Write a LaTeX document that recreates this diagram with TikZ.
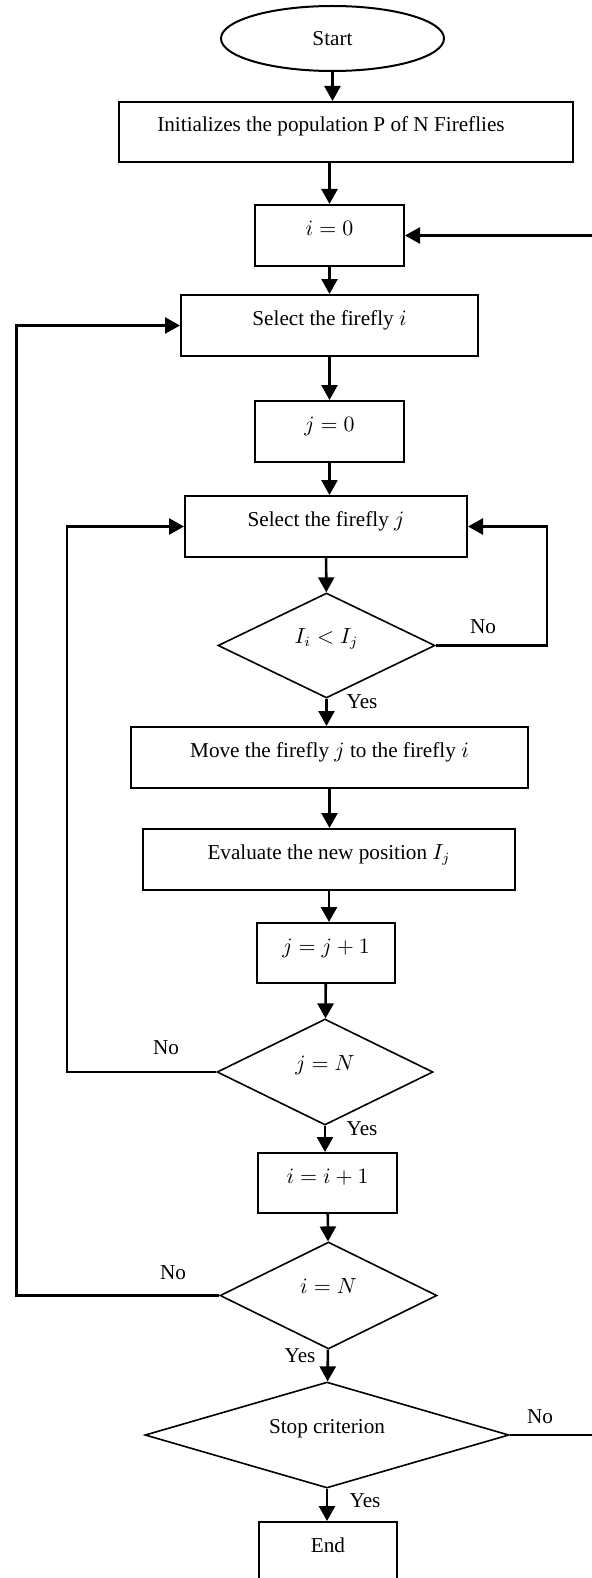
\documentclass[tikz,border=0pt]{standalone}
\usepackage{fontspec}
\setmainfont{Liberation Serif}
\usetikzlibrary{arrows.meta,shapes.geometric}
\tikzset{
  >={Triangle[length=7.5pt,width=8pt]},
  box/.style={draw, line width=1pt, minimum height=30.5pt, inner sep=2pt,
              text height=7pt, text depth=7pt, font=\fontsize{10.6}{12.7}\selectfont},
  term/.style={ellipse, draw, line width=1pt, minimum width=111.5pt, minimum height=32.5pt,
              inner sep=1pt, font=\fontsize{10.6}{12.7}\selectfont},
  test/.style={diamond, draw, line width=0.8pt, aspect=2, minimum height=53pt, inner sep=1pt,
              text height=6pt, text depth=8pt, font=\fontsize{10.6}{12.7}\selectfont},
  lbl/.style={inner sep=0pt, font=\fontsize{10.6}{12.7}\selectfont},
  flow/.style={->, line width=1.3pt},
  loop/.style={->, line width=1.3pt, rounded corners=0pt},
}

\begin{document}
\begin{tikzpicture}[x=0.5pt,y=-0.5pt]
    \useasboundingbox (0,0) rectangle (592,1578);
    \clip (0,0) rectangle (592,1578);
    \node[term] (start) at (332.5,38.5) {Start};
    \node[box,minimum width=227pt,minimum height=30pt] (init) at (346,132)
      {Initializes the population P of N Fireflies\hspace*{15pt}};
    \node[box,minimum width=74.5pt] (i0) at (329.5,235.5) {$i=0$};
    \node[box,minimum width=148.5pt] (seli) at (329.5,325.5) {Select the firefly $i$};
    \node[box,minimum width=74.5pt] (j0) at (329.5,431.5) {$j=0$};
    \node[box,minimum width=141pt] (selj) at (326,526.5) {Select the firefly $j$};
    \node[test,minimum width=108.5pt,minimum height=52.5pt] (cmp) at (326.5,645.5) {$I_i<I_j$};
    \node[box,minimum width=198.5pt] (move) at (329.5,757.5)
      {Move the firefly $j$ to the firefly $i$};
    \node[box,minimum width=186pt] (eval) at (329,859.5) {Evaluate the new position $I_j$};
    \node[box,minimum width=69pt,minimum height=30pt] (jinc) at (326,953) {$j=j+1$};
    \node[test,minimum width=108pt] (jtest) at (325,1072) {$j=N$};
    \node[box,minimum width=69.5pt,minimum height=30pt] (iinc) at (327.5,1183) {$i=i+1$};
    \node[test,minimum width=108.5pt,minimum height=53.5pt] (itest) at (328.5,1295.5) {$i=N$};
    \node[test,minimum width=182pt] (stop) at (327,1435) {Stop criterion};
    \node[box,minimum width=69pt,minimum height=30pt] (end) at (328,1552) {End};
    \node[lbl] (no1) at (483,627) {No};
    \node[lbl] (yes1) at (362,702) {Yes};
    \node[lbl] (no2) at (166,1048) {No};
    \node[lbl] (yes2) at (362,1129) {Yes};
    \node[lbl] (no3) at (173,1273) {No};
    \node[lbl] (yes3) at (300,1356) {Yes};
    \node[lbl] (no4) at (540,1417) {No};
    \node[lbl] (yes4) at (365,1501) {Yes};
    \coordinate (rj) at (547,645.5);
    \coordinate (lj) at (67,1072);
    \coordinate (li) at (16.5,1295.5);
    \coordinate (rs) at (598,1435);
    \draw[flow](start)--(start|-init.north);
    \draw[flow](init.south-|i0)--(i0);
    \draw[flow](i0)--(i0|-seli.north);
    \draw[flow](seli)--(seli|-j0.north);
    \draw[flow](j0)--(j0|-selj.north);
    \draw[flow](selj)--(cmp);
    \draw[flow](cmp)--(cmp|-move.north);
    \draw[flow](move)--(move|-eval.north);
    \draw[flow](eval)--(eval|-jinc.north);
    \draw[flow](jinc)--(jtest);
    \draw[flow](jtest)--(jtest|-iinc.north);
    \draw[flow](iinc)--(itest);
    \draw[flow](itest)--(stop);
    \draw[flow](stop)--(stop|-end.north);
    \draw[loop](cmp.east)--(rj)|-(selj.east);
    \draw[loop](jtest.west)--(lj)|-(selj.west);
    \draw[loop](itest.west)--(li)|-(seli.west);
    \draw[loop](stop.east)--(rs)|-(i0.east);
\end{tikzpicture}
\end{document}
